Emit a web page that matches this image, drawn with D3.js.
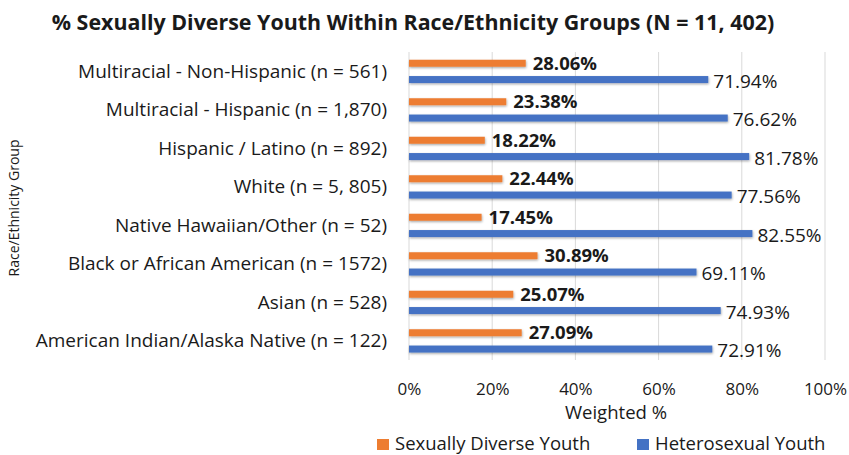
<!DOCTYPE html>
<html>
<head>
<meta charset="utf-8">
<script src="https://cdn.jsdelivr.net/npm/d3@7"></script>
<style>
  body { margin: 0; background: #fff; }
  svg text { font-family: "Open Sans", sans-serif; fill: #1a1a1a; }
</style>
</head>
<body>
<div id="chart"></div>
<script>
// data (top row first)
var groups = ["Multiracial - Non-Hispanic (n = 561)", "Multiracial - Hispanic (n = 1,870)",
              "Hispanic / Latino (n = 892)", "White (n = 5, 805)", "Native Hawaiian/Other (n = 52)",
              "Black or African American (n = 1572)", "Asian (n = 528)",
              "American Indian/Alaska Native (n = 122)"];
var diverse = [28.06, 23.38, 18.22, 22.44, 17.45, 30.89, 25.07, 27.09];
var hetero  = [71.94, 76.62, 81.78, 77.56, 82.55, 69.11, 74.93, 72.91];
var xTicks = [0, 20, 40, 60, 80, 100];
var seriesNames = ["Sexually Diverse Youth", "Heterosexual Youth"];
var colors = ["#ED7D31", "#4472C4"];

var W = 849, H = 455;
var svg = d3.select("#chart").append("svg")
    .attr("width", W)
    .attr("height", H);

// small shadow under the bars like the office chart
var defs = svg.append("defs");
defs.append("filter").attr("id", "shad")
    .attr("x", "-5%").attr("y", "-50%").attr("width", "110%").attr("height", "220%")
    .append("feDropShadow")
    .attr("dx", 0.5).attr("dy", 1.2).attr("stdDeviation", 0.8)
    .attr("flood-color", "#000").attr("flood-opacity", 0.35);

var x = d3.scaleLinear().domain([0, 100]).range([409, 825]);
var y = d3.scaleBand().domain(groups).range([52, 360]);

// adjust width of a text a bit, the original font is a narrow one
function squeeze(sel, f) {
  sel.each(function () {
    var w = this.getComputedTextLength();
    d3.select(this).attr("textLength", w * f).attr("lengthAdjust", "spacingAndGlyphs");
  });
}

// title
svg.append("text")
    .attr("x", 413).attr("y", 30)
    .attr("text-anchor", "middle")
    .attr("font-size", "21px")
    .attr("font-weight", "bold")
    .text("% Sexually Diverse Youth Within Race/Ethnicity Groups (N = 11, 402)")
    .call(squeeze, 1.02);

// gridlines
svg.append("g")
    .selectAll("line")
    .data(xTicks)
    .enter()
    .append("line")
    .attr("x1", function (d) { return x(d); })
    .attr("x2", function (d) { return x(d); })
    .attr("y1", y.range()[0])
    .attr("y2", y.range()[1])
    .attr("stroke", "#d9d9d9")
    .attr("stroke-width", 1);

// x axis tick labels
var xAxis = d3.axisBottom(x)
    .tickValues(xTicks)
    .tickSize(0)
    .tickPadding(0)
    .tickFormat(function (d) { return d + "%"; });
var gx = svg.append("g")
    .attr("transform", "translate(0,395)")
    .call(xAxis);
gx.select(".domain").remove();
gx.selectAll("text")
    .attr("dy", 0)
    .attr("font-size", "17px")
    .style("font-family", "Open Sans, sans-serif")
    .attr("fill", "#333");

// y axis category labels
var yAxis = d3.axisLeft(y).tickSize(0).tickPadding(0);
var gy = svg.append("g")
    .attr("transform", "translate(387,0)")
    .call(yAxis);
gy.select(".domain").remove();
gy.selectAll("text")
    .attr("dy", "0.35em")
    .attr("font-size", "19px")
    .style("font-family", "Open Sans, sans-serif")
    .attr("fill", "#1a1a1a");

var bh = 7;
var off = [-8, 8.3];
var rows = groups.map(function (g, i) { return { g: g, v: [diverse[i], hetero[i]] }; });

[0, 1].forEach(function (s) {
  svg.append("g")
      .selectAll("rect")
      .data(rows)
      .enter()
      .append("rect")
      .attr("x", x(0))
      .attr("y", function (d) { return y(d.g) + y.bandwidth() / 2 + off[s] - bh / 2; })
      .attr("width", function (d) { return x(d.v[s]) - x(0); })
      .attr("height", bh)
      .attr("fill", colors[s])
      .attr("filter", "url(#shad)");

  svg.append("g")
      .selectAll("text")
      .data(rows)
      .enter()
      .append("text")
      .attr("x", function (d) { return x(d.v[s]) + (s === 0 ? 7 : 5); })
      .attr("y", function (d) { return y(d.g) + y.bandwidth() / 2 + off[s] + (s === 0 ? 0 : 1.5); })
      .attr("dy", "0.35em")
      .attr("font-size", s === 0 ? "18.5px" : "19px")
      .attr("font-weight", s === 0 ? "bold" : "normal")
      .text(function (d) { return d.v[s].toFixed(2) + "%"; });
});

// axis titles
svg.append("text")
    .attr("x", 616).attr("y", 419)
    .attr("text-anchor", "middle")
    .attr("font-size", "17.5px")
    .attr("fill", "#333")
    .text("Weighted %")
    .call(squeeze, 1.06);

svg.append("text")
    .attr("transform", "translate(19,208) rotate(-90)")
    .attr("text-anchor", "middle")
    .attr("font-size", "14px")
    .attr("fill", "#333")
    .text("Race/Ethnicity Group");

// legend
var legX = [377, 637];
var leg = svg.append("g").selectAll("g")
    .data(seriesNames)
    .enter()
    .append("g")
    .attr("transform", function (d, i) { return "translate(" + legX[i] + ",439)"; });
leg.append("rect")
    .attr("width", 12).attr("height", 11)
    .attr("fill", function (d, i) { return colors[i]; });
leg.append("text")
    .attr("x", 18).attr("y", 11)
    .attr("font-size", "18.5px")
    .attr("fill", "#333")
    .text(function (d) { return d; });
</script>
</body>
</html>
